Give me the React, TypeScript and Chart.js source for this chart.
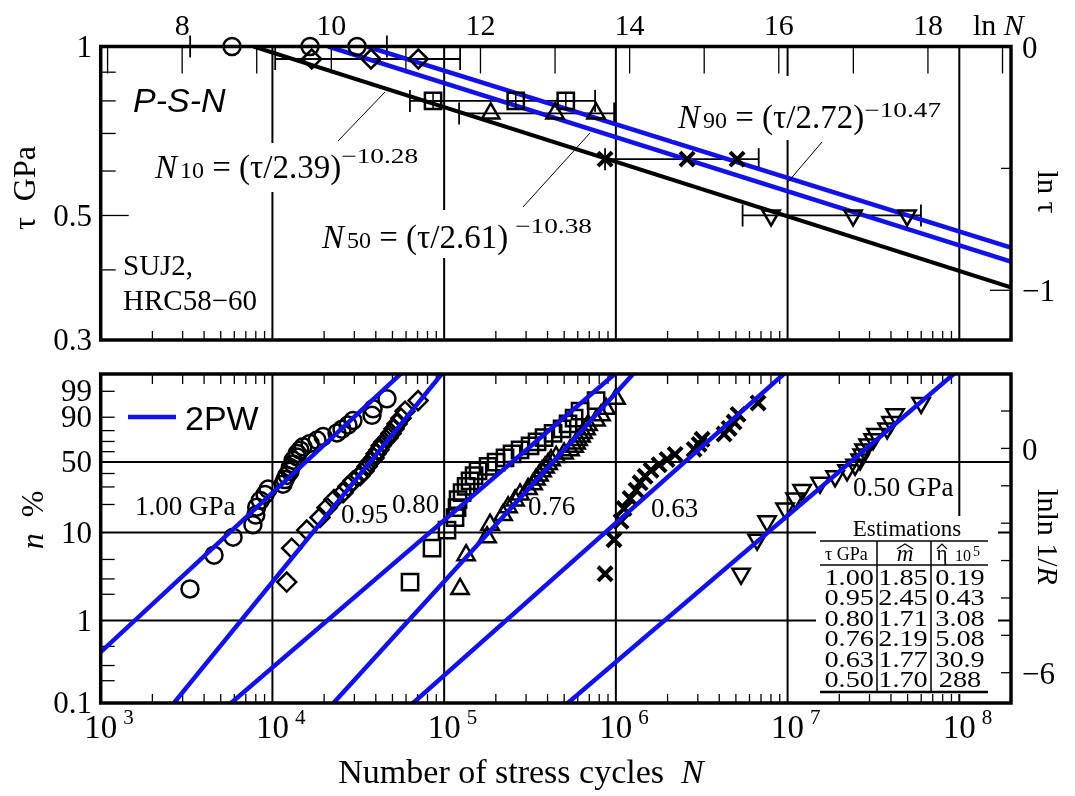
import React, { useEffect, useRef } from 'react';
import { Chart, registerables } from 'chart.js';

Chart.register(...registerables);

// ---------------- data ----------------
const stressLevels = [1.0, 0.95, 0.8, 0.76, 0.63, 0.5]; // tau, GPa
const stressText = ['1.00', '0.95', '0.80', '0.76', '0.63', '0.50'];
const mHat = ['1.85', '2.45', '1.71', '2.19', '1.77', '1.70'];
const etaHat = ['0.19', '0.43', '3.08', '5.08', '30.9', '288'];

// top panel: estimated lives (10 %, 50 %, 90 %) and confidence bars
const life10 = [5817, 16940, 86170, 186800, 865000, 8015000];
const life50 = [16560, 37520, 261200, 442500, 2598000, 24070000];
const life90 = [31090, 70740, 510900, 766800, 5080000, 49660000];
const ciLow = [3318, 10380, 63200, 122200, 865000, 5470000];
const ciHigh = [46400, 123900, 757000, 977000, 6790000, 59800000];

// P-S-N lines: N at tau = 1 and tau = 0.3
const psnTau = [1, 0.3];
const psnN10 = [7762, 1.845e9];
const psnN50 = [21120, 5.65e9];
const psnN90 = [35480, 1.058e10];

// bottom panel: failure cycles and plotting positions (n %)
const cycles100 = [3310, 4570, 5900, 7700, 8000, 8100, 8500, 9060, 9440, 11530, 11840, 12160, 12670, 12700, 13180, 13200, 13900, 13950, 14490, 15070, 16560, 18190, 19720, 23780, 25430, 27540, 29450, 38000, 38550, 46450];
const rank100 = [2.30, 5.59, 8.88, 12.17, 15.46, 18.75, 22.04, 25.33, 28.62, 31.91, 35.20, 38.49, 41.78, 45.07, 48.36, 51.64, 54.93, 58.22, 61.51, 64.80, 68.09, 71.38, 74.67, 77.96, 81.25, 84.54, 87.83, 91.12, 94.41, 97.70];
const cycles095 = [12110, 12950, 15840, 18930, 20800, 22850, 25780, 27560, 29470, 32370, 34160, 35560, 37020, 39060, 40120, 41770, 42910, 44670, 47130, 49060, 51070, 53180, 56100, 59200, 70500];
const rank095 = [2.76, 6.69, 10.63, 14.57, 18.50, 22.44, 26.38, 30.31, 34.25, 38.19, 42.13, 46.06, 50.00, 53.94, 57.87, 61.81, 65.75, 69.69, 73.62, 77.56, 81.50, 85.43, 89.37, 93.31, 97.24];
const cycles080 = [63300, 85000, 103900, 115700, 118900, 120500, 127200, 134200, 141500, 149400, 157600, 180200, 200600, 226200, 248600, 276800, 316400, 347600, 381900, 430900, 486100, 526800, 571100, 618800, 767000];
const rank080 = [2.76, 6.69, 10.63, 14.57, 18.50, 22.44, 26.38, 30.31, 34.25, 38.19, 42.13, 46.06, 50.00, 53.94, 57.87, 61.81, 65.75, 69.69, 73.62, 77.56, 81.50, 85.43, 89.37, 93.31, 97.24];
const cycles076 = [123800, 134200, 177800, 185100, 220400, 235700, 258800, 276800, 308200, 329500, 343000, 357100, 371700, 387000, 402900, 419500, 448600, 499300, 541300, 571100, 586700, 602500, 627200, 644300, 670800, 689000, 767000, 820100, 877000, 1003000];
const rank076 = [2.30, 5.59, 8.88, 12.17, 15.46, 18.75, 22.04, 25.33, 28.62, 31.91, 35.20, 38.49, 41.78, 45.07, 48.36, 51.64, 54.93, 58.22, 61.51, 64.80, 68.09, 71.38, 74.67, 77.96, 81.25, 84.54, 87.83, 91.12, 94.41, 97.70];
const cycles063 = [865000, 976000, 1072000, 1116000, 1209000, 1311000, 1384000, 1480000, 1603000, 1785000, 1987000, 2212000, 2855000, 3052000, 3178000, 4268000, 4564000, 4880000, 5149000, 6733000];
const rank063 = [3.43, 8.33, 13.24, 18.14, 23.04, 27.94, 32.84, 37.75, 42.65, 47.55, 52.45, 57.35, 62.25, 67.16, 72.06, 76.96, 81.86, 86.76, 91.67, 96.57];
const cycles050 = [5361000, 6644000, 7597000, 9670000, 11060000, 12150000, 15460000, 18910000, 22210000, 24730000, 26440000, 27160000, 27890000, 29430000, 31470000, 32770000, 37980000, 40070000, 42280000, 59900000];
const rank050 = [3.43, 8.33, 13.24, 18.14, 23.04, 27.94, 32.84, 37.75, 42.65, 47.55, 52.45, 57.35, 62.25, 67.16, 72.06, 76.96, 81.86, 86.76, 91.67, 96.57];

// 2PW fitted lines: N at n = 0.01 % and n = 99.99 %
const fitPct = [0.01, 99.99];
const fitLowN = [130.8, 1002, 1411, 7579, 16990, 127900];
const fitHighN = [63100, 106400, 1128000, 1400000, 10830000, 106300000];

// axes
const xDecades = [1e3, 1e4, 1e5, 1e6, 1e7, 1e8];
const xExpLabels = ['3', '4', '5', '6', '7', '8'];
const lnNTicks = [7, 8, 9, 10, 11, 12, 13, 14, 15, 16, 17, 18, 19];
const lnNLabels = [8, 10, 12, 14, 16, 18];
const tauLabels = [1, 0.5, 0.3];
const tauMinor = [0.9, 0.8, 0.7, 0.6, 0.4];
const lnTauTicks = [-0.5, -1];
const lnTauLabels = [0, -1];
const pctLabels = [99, 90, 50, 10, 1, 0.1];
const pctGrid = [50, 10, 1];
const pctMinor = [99, 90, 80, 70, 60, 40, 30, 20, 5, 3, 2, 0.5, 0.3, 0.2];
const lnlnTicks = [1, 0, -1, -2, -3, -4, -5, -6];
const lnlnLabels = [0, -6];

// ---------------- styles / layout ----------------
const BLUE = '#1212e6';
const SERIF = '"Liberation Serif","Times New Roman",Times,serif';
const SANS = '"Liberation Sans",Arial,Helvetica,sans-serif';
const W = 1075;
const TOP_H = 360;
const BOT_TOP = 360;
const BOT_H = 436;
const PAD_L = 100.7;
const PAD_R = 64;

const markerStyle = ['circle', 'rectRot', 'rect', 'triangle', 'crossRot', 'triangle'];
const markerRot = [0, 0, 0, 0, 0, 180];
const markerRadius = [8.5, 9.5, 11.5, 10, 10, 10];
const markerBw = [2.5, 2.5, 2.5, 2.5, 4, 2.5];

const wb = (p: number) => Math.log(-Math.log(1 - p / 100));

function seg(ctx: any, x1: number, y1: number, x2: number, y2: number, w = 1.5, c = '#000') {
  ctx.beginPath();
  ctx.moveTo(x1, y1);
  ctx.lineTo(x2, y2);
  ctx.lineWidth = w;
  ctx.strokeStyle = c;
  ctx.stroke();
}

type Seg = { t: string; f: string; dy?: number; dx?: number; sx?: number };

function richWidth(ctx: any, segs: Seg[]) {
  let w = 0;
  for (const s of segs) {
    ctx.font = s.f;
    w += (s.dx || 0) + ctx.measureText(s.t).width * (s.sx || 1);
  }
  return w;
}

function drawRich(ctx: any, x: number, y: number, segs: Seg[]) {
  let cx = x;
  for (const s of segs) {
    cx += s.dx || 0;
    ctx.font = s.f;
    const sx = s.sx || 1;
    const w = ctx.measureText(s.t).width * sx;
    ctx.save();
    ctx.translate(cx, y + (s.dy || 0));
    ctx.scale(sx, 1);
    ctx.textAlign = 'left';
    ctx.textBaseline = 'alphabetic';
    ctx.fillStyle = '#000';
    ctx.fillText(s.t, 0, 0);
    ctx.restore();
    cx += w;
  }
}

function drawRotated(ctx: any, x: number, y: number, angle: number, segs: Seg[]) {
  const w = richWidth(ctx, segs);
  ctx.save();
  ctx.translate(x, y);
  ctx.rotate(angle);
  drawRich(ctx, -w / 2, 0, segs);
  ctx.restore();
}

function text(ctx: any, t: string, x: number, y: number, font: string, align = 'left', base = 'alphabetic') {
  ctx.font = font;
  ctx.textAlign = align;
  ctx.textBaseline = base;
  ctx.fillStyle = '#000';
  ctx.fillText(t, x, y);
}

function hat(ctx: any, cx: number, y: number, hw: number) {
  ctx.beginPath();
  ctx.moveTo(cx - hw, y + 5);
  ctx.lineTo(cx, y);
  ctx.lineTo(cx + hw, y + 5);
  ctx.lineWidth = 1.2;
  ctx.strokeStyle = '#000';
  ctx.stroke();
}

// ---------------- top chart ----------------
const topPlugin = {
  id: 'topDecor',
  beforeDatasetsDraw(chart: any) {
    const { ctx, chartArea: a, scales } = chart;
    const x = scales.x, y = scales.y;
    ctx.save();
    for (const d of xDecades) {
      const px = x.getPixelForValue(d);
      if (px > a.left + 3 && px < a.right - 3) seg(ctx, px, a.top, px, a.bottom, 2);
    }
    for (let e = 3; e <= 8; e++) {
      for (let k = 2; k <= 9; k++) {
        const v = k * Math.pow(10, e);
        if (v > 2e8) continue;
        const px = x.getPixelForValue(v);
        seg(ctx, px, a.bottom, px, a.bottom - 9, 1.3);
      }
    }
    for (const t of lnNTicks) {
      const px = x.getPixelForValue(Math.exp(t));
      seg(ctx, px, a.top, px, a.top + 27, 1.3);
    }
    for (const t of tauMinor) {
      const py = y.getPixelForValue(t);
      seg(ctx, a.left, py, a.left + 15, py, 1.3);
    }
    const p05 = y.getPixelForValue(0.5);
    seg(ctx, a.left, p05, a.left + 28, p05, 1.3);
    for (const v of lnTauTicks) {
      const py = y.getPixelForValue(Math.exp(v));
      seg(ctx, a.right, py, a.right - (v === -1 ? 21 : 10), py, 1.3);
    }
    ctx.restore();
  },
  afterDatasetsDraw(chart: any) {
    const { ctx } = chart;
    ctx.save();
    ctx.fillStyle = '#fff';
    ctx.fillRect(150, 143, 285, 49);
    ctx.fillRect(318, 210, 287, 48);
    ctx.fillRect(672, 76, 283, 64);
    seg(ctx, 338, 141, 385, 92, 1);
    seg(ctx, 523, 207, 590, 133, 1);
    seg(ctx, 788, 182, 822, 142, 1);
    const big = `33px ${SERIF}`;
    drawRich(ctx, 155, 178, [
      { t: 'N', f: `italic ${big}` },
      { t: '10', f: `24px ${SERIF}`, dx: 3 },
      { t: ' = (τ/2.39)', f: big },
      { t: '−10.28', f: `21px ${SERIF}`, dy: -15, sx: 1.3 },
    ]);
    drawRich(ctx, 322, 248, [
      { t: 'N', f: `italic ${big}` },
      { t: '50', f: `24px ${SERIF}`, dx: 3 },
      { t: ' = (τ/2.61)', f: big },
      { t: ' −10.38', f: `21px ${SERIF}`, dy: -15, sx: 1.3 },
    ]);
    drawRich(ctx, 678, 128, [
      { t: 'N', f: `italic ${big}` },
      { t: '90', f: `24px ${SERIF}`, dx: 3 },
      { t: ' = (τ/2.72)', f: big },
      { t: '−10.47', f: `21px ${SERIF}`, dy: -11, sx: 1.3 },
    ]);
    text(ctx, 'P-S-N', 133, 112, `italic 34px ${SANS}`);
    text(ctx, 'SUJ2,', 123, 275, `29px ${SERIF}`);
    text(ctx, 'HRC58−60', 123, 310, `29px ${SERIF}`);
    ctx.restore();
  },
  afterDraw(chart: any) {
    const { ctx, chartArea: a, scales } = chart;
    const x = scales.x, y = scales.y;
    ctx.save();
    ctx.lineWidth = 3.5;
    ctx.strokeStyle = '#000';
    ctx.strokeRect(a.left, a.top, a.right - a.left, a.bottom - a.top);
    const lf = `31px ${SERIF}`;
    for (const t of tauLabels) {
      const py = Math.max(a.top, Math.min(a.bottom, y.getPixelForValue(t)));
      text(ctx, String(t), 92, py + 2, lf, 'right', 'middle');
    }
    for (const v of lnTauLabels) {
      const py = y.getPixelForValue(Math.exp(v));
      text(ctx, v < 0 ? '−' + Math.abs(v) : String(v), 1022, py + 3, lf, 'left', 'middle');
    }
    for (const L of lnNLabels) {
      const px = x.getPixelForValue(Math.exp(L));
      text(ctx, String(L), px, 35, `30px ${SERIF}`, 'center');
    }
    drawRich(ctx, 973, 35, [
      { t: 'ln ', f: `30px ${SERIF}` },
      { t: 'N', f: `italic 30px ${SERIF}` },
    ]);
    drawRotated(ctx, 35, 188, -Math.PI / 2, [{ t: 'τ  GPa', f: `32px ${SERIF}` }]);
    drawRotated(ctx, 1038, 192, Math.PI / 2, [{ t: 'ln τ', f: `30px ${SERIF}` }]);
    ctx.restore();
  },
};

function makeTopConfig(): any {
  const datasets: any[] = [];
  const psn = [
    { n: psnN10, c: '#000', w: 4 },
    { n: psnN50, c: BLUE, w: 4.5 },
    { n: psnN90, c: BLUE, w: 4.5 },
  ];
  psn.forEach((p) =>
    datasets.push({
      data: psnTau.map((t, i) => ({ x: p.n[i], y: t })),
      showLine: true,
      borderColor: p.c,
      borderWidth: p.w,
      pointRadius: 0,
      order: 2,
    })
  );
  stressLevels.forEach((s, i) => {
    datasets.push({
      data: [
        { x: ciLow[i], y: s },
        { x: ciHigh[i], y: s },
      ],
      showLine: true,
      borderColor: '#000',
      borderWidth: 1.8,
      pointStyle: 'line',
      pointRotation: 90,
      pointRadius: 11,
      pointBorderColor: '#000',
      pointBorderWidth: 1.8,
      clip: false,
      order: 3,
    });
    datasets.push({
      data: [life10[i], life50[i], life90[i]].map((n) => ({ x: n, y: s })),
      showLine: false,
      pointStyle: markerStyle[i],
      pointRotation: markerRot[i],
      pointRadius: markerRadius[i],
      pointBorderColor: '#000',
      pointBorderWidth: markerBw[i],
      pointBackgroundColor: 'rgba(0,0,0,0)',
      clip: false,
      order: 1,
    });
  });
  // inner cross of the 0.80 GPa squares
  datasets.push({
    data: [life10[2], life50[2], life90[2]].map((n) => ({ x: n, y: stressLevels[2] })),
    showLine: false,
    pointStyle: 'cross',
    pointRadius: 7,
    pointBorderColor: '#000',
    pointBorderWidth: 1.5,
    clip: false,
    order: 0,
  });
  return {
    type: 'scatter',
    data: { datasets },
    options: {
      animation: false,
      responsive: false,
      events: [],
      layout: { padding: { left: PAD_L, right: PAD_R, top: 46.5, bottom: TOP_H - 340 } },
      plugins: { legend: { display: false }, tooltip: { enabled: false } },
      scales: {
        x: { type: 'logarithmic', min: 1000, max: 2e8, display: false },
        y: { type: 'logarithmic', min: 0.3, max: 1, display: false },
      },
    },
    plugins: [topPlugin],
  };
}

// ---------------- bottom chart ----------------
const botPlugin = {
  id: 'botDecor',
  beforeDatasetsDraw(chart: any) {
    const { ctx, chartArea: a, scales } = chart;
    const x = scales.x, y = scales.y;
    ctx.save();
    for (const d of xDecades) {
      const px = x.getPixelForValue(d);
      if (px > a.left + 3 && px < a.right - 3) seg(ctx, px, a.top, px, a.bottom, 2);
    }
    for (const p of pctGrid) {
      const py = y.getPixelForValue(wb(p));
      seg(ctx, a.left, py, a.right, py, 2);
    }
    for (let e = 3; e <= 8; e++) {
      for (let k = 2; k <= 9; k++) {
        const v = k * Math.pow(10, e);
        if (v > 2e8) continue;
        const px = x.getPixelForValue(v);
        seg(ctx, px, a.bottom, px, a.bottom - 9, 1.3);
        seg(ctx, px, a.top, px, a.top + 10, 1.3);
      }
    }
    for (const p of pctMinor) {
      const py = y.getPixelForValue(wb(p));
      seg(ctx, a.left, py, a.left + 14, py, 1.3);
    }
    for (const v of lnlnTicks) {
      const py = y.getPixelForValue(v);
      seg(ctx, a.right, py, a.right - 10, py, 1.3);
    }
    ctx.restore();
  },
  afterDatasetsDraw(chart: any) {
    const { ctx } = chart;
    ctx.save();
    ctx.translate(0, -BOT_TOP);
    const lf = `27px ${SERIF}`;
    text(ctx, '1.00 GPa', 135, 515, lf);
    text(ctx, '0.95', 341, 523, lf);
    text(ctx, '0.80', 392, 513, lf);
    text(ctx, '0.76', 528, 515, lf);
    text(ctx, '0.63', 651, 517, lf);
    text(ctx, '0.50 GPa', 853, 496, lf);
    // legend
    seg(ctx, 128, 417, 176, 417, 4.5, BLUE);
    text(ctx, '2PW', 185, 430, `34px ${SANS}`);
    // table
    ctx.fillStyle = '#fff';
    ctx.fillRect(816, 516, 182, 178);
    text(ctx, 'Estimations', 907, 536, `23px ${SERIF}`, 'center');
    seg(ctx, 820, 541, 988, 541, 1.5);
    text(ctx, 'τ GPa', 825, 560, `18px ${SERIF}`);
    text(ctx, 'm', 905, 561, `italic 23px ${SERIF}`, 'center');
    hat(ctx, 905, 544, 8);
    text(ctx, 'η', 942, 560, `21px ${SERIF}`, 'center');
    hat(ctx, 942, 544, 5);
    text(ctx, '10', 955, 561, `16px ${SERIF}`);
    text(ctx, '5', 973, 556, `14px ${SERIF}`);
    seg(ctx, 820, 565, 988, 565, 1.5);
    seg(ctx, 877, 541, 877, 692, 1.5);
    seg(ctx, 931, 541, 931, 692, 1.5);
    const rf = `24px ${SERIF}`;
    const sx = 1.18;
    stressText.forEach((s, i) => {
      const by = 585 + i * 20.4;
      ctx.font = rf;
      const w1 = ctx.measureText(s).width * sx;
      drawRich(ctx, 874 - w1, by, [{ t: s, f: rf, sx }]);
      const w2 = ctx.measureText(mHat[i]).width * sx;
      drawRich(ctx, 903 - w2 / 2, by, [{ t: mHat[i], f: rf, sx }]);
      const w3 = ctx.measureText(etaHat[i]).width * sx;
      drawRich(ctx, 960 - w3 / 2, by, [{ t: etaHat[i], f: rf, sx }]);
    });
    seg(ctx, 820, 692, 988, 692, 2.5);
    ctx.restore();
  },
  afterDraw(chart: any) {
    const { ctx, chartArea: a, scales } = chart;
    const x = scales.x, y = scales.y;
    ctx.save();
    ctx.lineWidth = 3.5;
    ctx.strokeStyle = '#000';
    ctx.strokeRect(a.left, a.top, a.right - a.left, a.bottom - a.top);
    const lf = `31px ${SERIF}`;
    for (const p of pctLabels) {
      const py = Math.min(a.bottom, y.getPixelForValue(wb(p)));
      text(ctx, String(p), 92, py + 2, lf, 'right', 'middle');
    }
    for (const v of lnlnLabels) {
      const py = y.getPixelForValue(v);
      text(ctx, v < 0 ? '−' + Math.abs(v) : String(v), 1022, py + 3, lf, 'left', 'middle');
    }
    xDecades.forEach((d, i) => {
      const px = x.getPixelForValue(d);
      ctx.font = `33px ${SERIF}`;
      const w = ctx.measureText('10').width;
      text(ctx, '10', px, 738 - BOT_TOP, `33px ${SERIF}`, 'center');
      text(ctx, xExpLabels[i], px + w / 2 + 6, 724 - BOT_TOP, `21px ${SERIF}`);
    });
    const title: Seg[] = [
      { t: 'Number of stress cycles  ', f: `34px ${SERIF}` },
      { t: 'N', f: `italic 34px ${SERIF}` },
    ];
    const tw = richWidth(ctx, title);
    drawRich(ctx, 521 - tw / 2, 783 - BOT_TOP, title);
    drawRotated(ctx, 43, 520 - BOT_TOP, -Math.PI / 2, [
      { t: 'n', f: `italic 32px ${SERIF}` },
      { t: '  %', f: `32px ${SERIF}` },
    ]);
    drawRotated(ctx, 1038, 537 - BOT_TOP, Math.PI / 2, [
      { t: 'lnln 1/', f: `30px ${SERIF}` },
      { t: 'R', f: `italic 30px ${SERIF}` },
    ]);
    ctx.restore();
  },
};

function makeBottomConfig(): any {
  const cycles = [cycles100, cycles095, cycles080, cycles076, cycles063, cycles050];
  const ranks = [rank100, rank095, rank080, rank076, rank063, rank050];
  const datasets: any[] = [];
  stressLevels.forEach((_, i) => {
    datasets.push({
      data: [
        { x: fitLowN[i], y: wb(fitPct[0]) },
        { x: fitHighN[i], y: wb(fitPct[1]) },
      ],
      showLine: true,
      borderColor: BLUE,
      borderWidth: 4.5,
      pointRadius: 0,
      order: 1,
    });
  });
  stressLevels.forEach((_, i) => {
    datasets.push({
      data: cycles[i].map((n, j) => ({ x: n, y: wb(ranks[i][j]) })),
      showLine: false,
      pointStyle: markerStyle[i],
      pointRotation: markerRot[i],
      pointRadius: markerRadius[i],
      pointBorderColor: '#000',
      pointBorderWidth: markerBw[i],
      pointBackgroundColor: 'rgba(0,0,0,0)',
      order: 2,
    });
  });
  return {
    type: 'scatter',
    data: { datasets },
    options: {
      animation: false,
      responsive: false,
      events: [],
      layout: { padding: { left: PAD_L, right: PAD_R, top: 374 - BOT_TOP, bottom: BOT_H - (703 - BOT_TOP) } },
      plugins: { legend: { display: false }, tooltip: { enabled: false } },
      scales: {
        x: { type: 'logarithmic', min: 1000, max: 2e8, display: false },
        y: { type: 'linear', min: -6.81, max: 1.99, display: false },
      },
    },
    plugins: [botPlugin],
  };
}

export default function App() {
  const topRef = useRef<HTMLCanvasElement>(null);
  const botRef = useRef<HTMLCanvasElement>(null);
  useEffect(() => {
    const c1 = new Chart(topRef.current as HTMLCanvasElement, makeTopConfig());
    const c2 = new Chart(botRef.current as HTMLCanvasElement, makeBottomConfig());
    return () => {
      c1.destroy();
      c2.destroy();
    };
  }, []);
  return (
    <div style={{ position: 'fixed', left: 0, top: 0, width: W, height: 796, background: '#fff' }}>
      <canvas ref={topRef} width={W} height={TOP_H} style={{ position: 'absolute', left: 0, top: 0, width: W, height: TOP_H }} />
      <canvas ref={botRef} width={W} height={BOT_H} style={{ position: 'absolute', left: 0, top: BOT_TOP, width: W, height: BOT_H }} />
    </div>
  );
}
